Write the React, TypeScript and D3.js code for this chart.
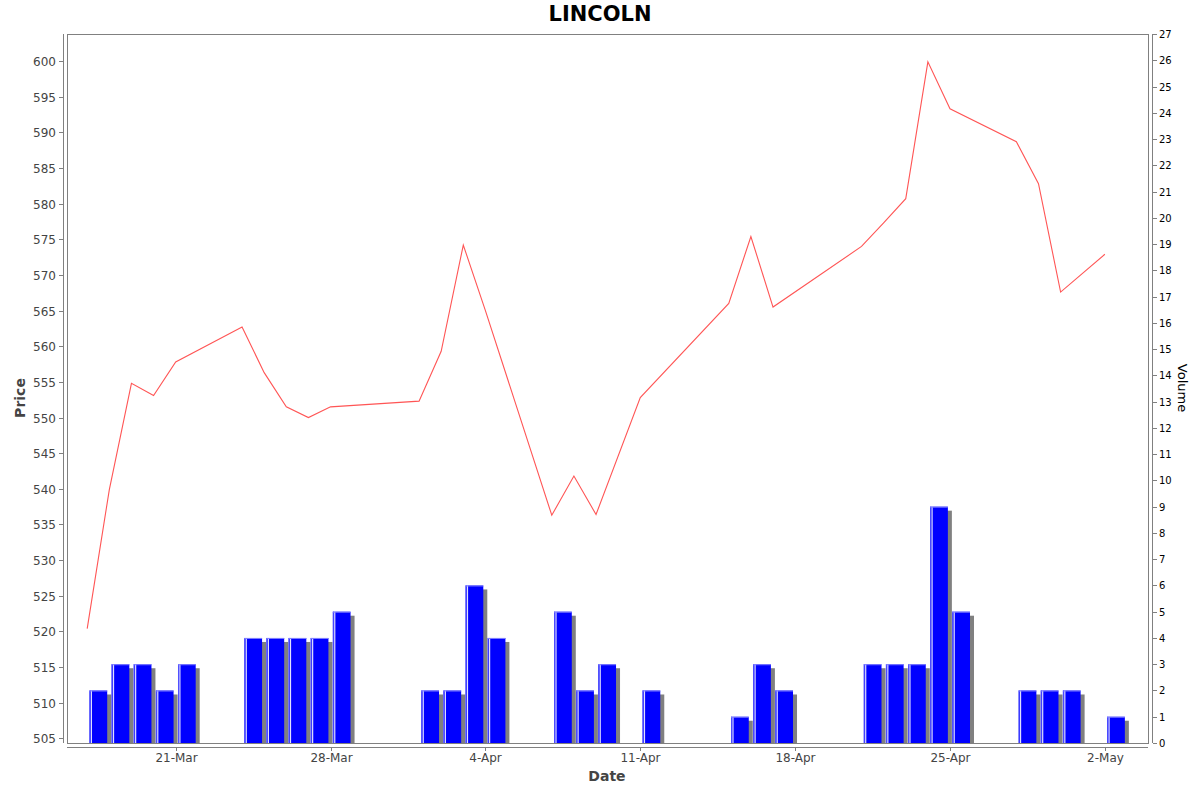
import React, { useRef, useEffect } from 'react';
import * as d3 from 'd3';

// trading days, close price and volume
const dates = [
  '2014-03-17', '2014-03-18', '2014-03-19', '2014-03-20', '2014-03-21',
  '2014-03-24', '2014-03-25', '2014-03-26', '2014-03-27', '2014-03-28',
  '2014-04-01', '2014-04-02', '2014-04-03', '2014-04-04',
  '2014-04-07', '2014-04-08', '2014-04-09', '2014-04-11',
  '2014-04-15', '2014-04-16', '2014-04-17',
  '2014-04-21', '2014-04-22', '2014-04-23', '2014-04-24', '2014-04-25',
  '2014-04-28', '2014-04-29', '2014-04-30', '2014-05-02',
];
const prices = [
  520.4, 539.9, 554.8, 553.1, 557.8,
  562.7, 556.3, 551.5, 550.0, 551.5,
  552.3, 559.3, 574.2, 565.0,
  536.3, 541.8, 536.4, 552.8,
  566.0, 575.4, 565.5,
  574.0, 577.3, 580.7, 599.9, 593.3,
  588.7, 582.8, 567.6, 572.9,
];
const volumes = [
  2, 3, 3, 2, 3,
  4, 4, 4, 4, 5,
  2, 2, 6, 4,
  5, 2, 3, 2,
  1, 3, 2,
  3, 3, 3, 9, 5,
  2, 2, 2, 1,
];
const priceTicks = d3.range(505, 601, 5);
const volumeTicks = d3.range(0, 28, 1);

const W = 1200;
const H = 792;
const DAY = 86400000;

const parse = (s: string) => {
  const [y, m, d] = s.split('-').map(Number);
  return new Date(y, m - 1, d);
};

export default function App() {
  const svgRef = useRef<SVGSVGElement>(null);

  useEffect(() => {
    if (!svgRef.current) return;
    const svg = d3.select(svgRef.current);
    svg.selectAll('*').remove();

    const L = 67, R = 1148, T = 34, B = 743;
    const font = 'DejaVu Sans, sans-serif';
    const axisGray = '#808080';

    const days = dates.map(parse);
    const x = d3.scaleTime()
      .domain([new Date(2014, 2, 16, 2, 5), new Date(2014, 4, 3, 22, 48)])
      .range([L, R]);
    const yP = d3.scaleLinear().domain([504.35, 603.8]).range([B, T]);
    const yV = d3.scaleLinear().domain([0, 27]).range([B, T]);

    svg.append('rect').attr('width', W).attr('height', H).attr('fill', '#fff');

    // title
    svg.append('text').attr('x', 600).attr('y', 21).attr('text-anchor', 'middle')
      .style('font-family', font).style('font-size', '21px').style('font-weight', 'bold')
      .attr('fill', '#000').text('LINCOLN');

    // plot outline
    svg.append('rect').attr('x', L + 0.5).attr('y', T + 0.5)
      .attr('width', R - L).attr('height', B - T)
      .attr('fill', '#fff').attr('stroke', axisGray);

    const clip = svg.append('clipPath').attr('id', 'plotclip');
    clip.append('rect').attr('x', L).attr('y', T).attr('width', R - L).attr('height', B - T);
    const plot = svg.append('g').attr('clip-path', 'url(#plotclip)');

    // volume bars: shadow, bar, highlights
    const bx0 = (d: Date) => x(new Date(+d + 0.104 * DAY));
    const bx1 = (d: Date) => x(new Date(+d + 0.904 * DAY));
    const bars = plot.append('g');
    days.forEach((d, i) => {
      const x0 = bx0(d), x1 = bx1(d), top = yV(volumes[i]);
      bars.append('rect').attr('x', x0 + 4).attr('y', top + 4)
        .attr('width', x1 - x0).attr('height', Math.max(0, B - top - 4)).attr('fill', '#808080');
      bars.append('rect').attr('x', x0).attr('y', top)
        .attr('width', x1 - x0).attr('height', B - top).attr('fill', '#0000ff');
      bars.append('rect').attr('x', x0).attr('y', top)
        .attr('width', 1).attr('height', B - top).attr('fill', '#5050ff');
      bars.append('rect').attr('x', x0 + 1.3).attr('y', top)
        .attr('width', 1.2).attr('height', B - top).attr('fill', '#e0e0ff');
      bars.append('rect').attr('x', x0).attr('y', top)
        .attr('width', x1 - x0).attr('height', 1).attr('fill', '#8080ff');
    });

    // price line
    const line = d3.line<number>()
      .x((_, i) => x(days[i]))
      .y(d => yP(d));
    plot.append('path').datum(prices)
      .attr('fill', 'none').attr('stroke', '#ff5555').attr('stroke-width', 1.1)
      .attr('d', line);

    // left price axis
    const ax = svg.append('g').style('font-family', font);
    ax.append('line').attr('x1', 63.5).attr('x2', 63.5).attr('y1', T).attr('y2', B)
      .attr('stroke', axisGray);
    priceTicks.forEach(t => {
      const y = Math.round(yP(t)) + 0.5;
      ax.append('line').attr('x1', 59).attr('x2', 63).attr('y1', y).attr('y2', y).attr('stroke', axisGray);
      ax.append('text').attr('x', 56).attr('y', y).attr('dy', '0.36em').attr('text-anchor', 'end')
        .style('font-size', '12px').attr('fill', '#444').text(t);
    });
    ax.append('text').attr('transform', 'translate(25,398) rotate(-90)').attr('text-anchor', 'middle')
      .style('font-size', '14px').style('font-weight', 'bold').attr('fill', '#444').text('Price');

    // right volume axis
    ax.append('line').attr('x1', 1152.5).attr('x2', 1152.5).attr('y1', T).attr('y2', B)
      .attr('stroke', axisGray);
    volumeTicks.forEach(t => {
      const y = Math.round(yV(t)) + 0.5;
      ax.append('line').attr('x1', 1153).attr('x2', 1157).attr('y1', y).attr('y2', y).attr('stroke', axisGray);
      ax.append('text').attr('x', 1159).attr('y', y).attr('dy', '0.36em')
        .style('font-size', '10px').attr('fill', '#000').text(t);
    });
    ax.append('text').attr('transform', 'translate(1178,388) rotate(90)').attr('text-anchor', 'middle')
      .style('font-size', '13px').attr('fill', '#000').text('Volume');

    // bottom date axis
    ax.append('line').attr('x1', L).attr('x2', R).attr('y1', 747.5).attr('y2', 747.5).attr('stroke', axisGray);
    const fmt = d3.timeFormat('%-d-%b');
    x.ticks(d3.timeFriday.every(1)!).forEach(t => {
      const xx = Math.round(x(t)) + 0.5;
      ax.append('line').attr('x1', xx).attr('x2', xx).attr('y1', 748).attr('y2', 751).attr('stroke', axisGray);
      ax.append('text').attr('x', xx).attr('y', 762).attr('text-anchor', 'middle')
        .style('font-size', '12px').attr('fill', '#444').text(fmt(t));
    });
    ax.append('text').attr('x', 607).attr('y', 781).attr('text-anchor', 'middle')
      .style('font-size', '14px').style('font-weight', 'bold').attr('fill', '#444').text('Date');
  }, []);

  return (
    <svg ref={svgRef} width={W} height={H}
      style={{ position: 'absolute', left: 0, top: 0, display: 'block' }} />
  );
}
